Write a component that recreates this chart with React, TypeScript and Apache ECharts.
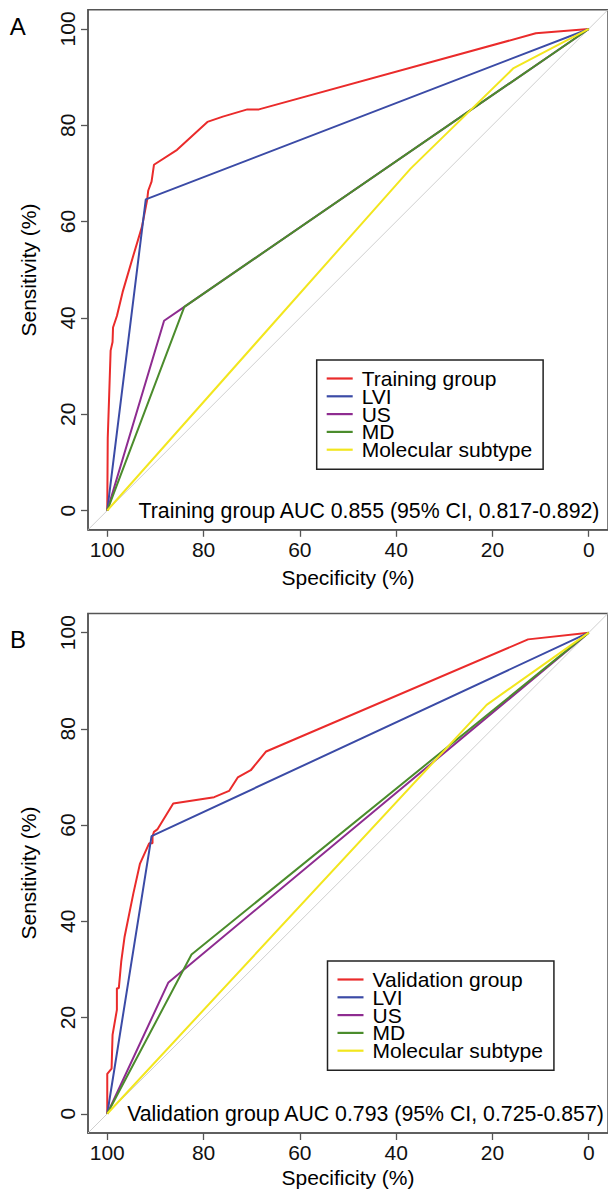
import React, { useEffect, useRef } from "react";
import * as echarts from "echarts";

// ---------- data ----------
const specTicks = [100, 80, 60, 40, 20, 0];
const sensTicks = [0, 20, 40, 60, 80, 100];

const trainLabel = "Training group";
const validLabel = "Validation group";
const factorNames = ["LVI", "US", "MD", "Molecular subtype"];
const trainAucText = "Training group AUC 0.855 (95% CI, 0.817-0.892)";
const validAucText = "Validation group AUC 0.793 (95% CI, 0.725-0.857)";

// reference diagonal (chance line)
const diagSpec = [104, -4];
const diagSens = [-4, 104];

// Training (panel A)
const trainSpec = [100, 99.9, 99.9, 99.6, 99.3, 98.9, 98.8, 98.0, 96.8, 94.6, 92.8, 91.7, 91.5, 90.8, 90.3, 85.5, 79.2, 76.0, 70.9, 68.5, 11.0, 0];
const trainSens = [0, 0, 15.0, 24.0, 33.2, 35.0, 38.0, 40.4, 45.4, 52.9, 58.9, 64.6, 66.4, 68.3, 71.8, 74.9, 80.7, 81.8, 83.3, 83.3, 99.1, 100];
const aLviSpec = [100, 92.0, 0];
const aLviSens = [0, 64.6, 100];
const aUsSpec = [100, 88.2, 84.0, 0];
const aUsSens = [0, 39.4, 42.3, 100];
const aMdSpec = [100, 84.0, 0];
const aMdSens = [0, 42.3, 100];
const aMolSpec = [100, 37.0, 15.7, 0];
const aMolSens = [0, 71.0, 91.8, 100];

// Validation (panel B)
const validSpec = [100, 100, 99.1, 98.9, 98.0, 98.0, 97.6, 97.1, 96.4, 94.6, 93.2, 91.3, 90.6, 90.6, 90.3, 89.6, 86.3, 77.8, 74.7, 72.9, 70.2, 67.0, 12.6, 0];
const validSens = [0, 8.3, 9.4, 16.4, 21.6, 26.1, 26.1, 31.6, 36.8, 45.7, 52.0, 56.2, 56.2, 57.6, 58.6, 59.1, 64.5, 65.8, 67.1, 69.9, 71.4, 75.3, 98.6, 100];
const bLviSpec = [100, 90.8, 0];
const bLviSens = [0, 57.7, 100];
const bUsSpec = [100, 87.3, 0];
const bUsSens = [0, 27.3, 100];
const bMdSpec = [100, 82.5, 0];
const bMdSens = [0, 33.1, 100];
const bMolSpec = [100, 21.2, 0];
const bMolSens = [0, 85.0, 100];

// ---------- styles ----------
const FONT = "'Liberation Sans', Arial, Helvetica, sans-serif";
const C_RED = "#ea2b2b";
const C_BLUE = "#3b4ba6";
const C_PURPLE = "#8e2c90";
const C_GREEN = "#4b8c2c";
const C_YELLOW = "#f2e61e";
const C_DIAG = "#cfcfcf";
const C_AXIS = "#555555";

const zip = (xs: number[], ys: number[]) => xs.map((x, i) => [x, ys[i]]);

export default function App() {
  const ref = useRef<HTMLDivElement>(null);

  useEffect(() => {
    document.body.style.margin = "0";
    if (!ref.current) return;
    const chart = echarts.init(ref.current, undefined, { renderer: "svg" });

    const grids = [
      { left: 88, top: 9.7, width: 520.5, height: 520.1 },
      { left: 88, top: 613.4, width: 520.5, height: 519.6 },
    ];

    const xAxes = grids.map((_, i) => ({
      type: "value",
      gridIndex: i,
      inverse: true,
      min: -4,
      max: 104,
      splitLine: { show: false },
      axisLine: { show: true, onZero: false, lineStyle: { color: C_AXIS, width: 1.5 } },
      axisTick: { show: true, inside: false, length: 7, customValues: specTicks, lineStyle: { color: C_AXIS, width: 1.3 } },
      axisLabel: { customValues: specTicks, fontSize: 21, color: "#111", margin: 9, fontFamily: FONT },
    }));
    const yAxes = grids.map((_, i) => ({
      type: "value",
      gridIndex: i,
      min: -4,
      max: 104,
      splitLine: { show: false },
      axisLine: { show: true, onZero: false, lineStyle: { color: C_AXIS, width: 1.5 } },
      axisTick: { show: true, inside: false, length: 7, customValues: sensTicks, lineStyle: { color: C_AXIS, width: 1.3 } },
      axisLabel: { customValues: sensTicks, rotate: 90, fontSize: 21, color: "#111", margin: 10, fontFamily: FONT },
    }));

    const line = (name: string, data: number[][], color: string, gi: number, width = 2) => ({
      type: "line",
      name,
      xAxisIndex: gi,
      yAxisIndex: gi,
      data,
      symbol: "none",
      color,
      lineStyle: { color, width },
      itemStyle: { color },
      silent: true,
    });

    const series = [
      line("diag-A", zip(diagSpec, diagSens), C_DIAG, 0, 1),
      line(trainLabel, zip(trainSpec, trainSens), C_RED, 0),
      line(factorNames[0], zip(aLviSpec, aLviSens), C_BLUE, 0),
      line(factorNames[1], zip(aUsSpec, aUsSens), C_PURPLE, 0),
      line(factorNames[2], zip(aMdSpec, aMdSens), C_GREEN, 0),
      line(factorNames[3], zip(aMolSpec, aMolSens), C_YELLOW, 0),
      line("diag-B", zip(diagSpec, diagSens), C_DIAG, 1, 1),
      line(validLabel, zip(validSpec, validSens), C_RED, 1),
      line(factorNames[0], zip(bLviSpec, bLviSens), C_BLUE, 1),
      line(factorNames[1], zip(bUsSpec, bUsSens), C_PURPLE, 1),
      line(factorNames[2], zip(bMdSpec, bMdSens), C_GREEN, 1),
      line(factorNames[3], zip(bMolSpec, bMolSens), C_YELLOW, 1),
    ];

    const legendBase = {
      orient: "vertical",
      padding: [8, 11, 9, 10],
      itemGap: -3.2,
      itemWidth: 26,
      itemHeight: 2.2,
      icon: "rect",
      borderColor: "#222",
      borderWidth: 1.5,
      backgroundColor: "#ffffff",
      selectedMode: false,
      textStyle: { fontSize: 21, lineHeight: 17.6, color: "#000", fontFamily: FONT, padding: [0, 0, 0, 4] },
    };

    const legends = [
      { ...legendBase, left: 316.7, top: 360, data: [trainLabel, ...factorNames] },
      { ...legendBase, left: 327.5, top: 961, data: [validLabel, ...factorNames] },
    ];

    const txt = (text: string, x: number, y: number, fontSize = 21, rotation = 0) => ({
      type: "text",
      x,
      y,
      rotation,
      silent: true,
      style: { text, fontSize, fontFamily: FONT, fill: "#000", textAlign: "center", textVerticalAlign: "middle" },
    });

    const graphic = [
      txt("A", 17.7, 26, 24),
      txt("B", 18, 639, 24),
      txt("Sensitivity (%)", 28, 270, 21, Math.PI / 2),
      txt("Sensitivity (%)", 28, 873, 21, Math.PI / 2),
      txt("Specificity (%)", 348, 577, 21),
      txt("Specificity (%)", 348, 1177, 21),
      txt(trainAucText, 369, 510.8, 21.3),
      txt(validAucText, 365.5, 1113.6, 21.3),
    ];

    chart.setOption({
      animation: false,
      backgroundColor: "#ffffff",
      grid: grids.map((g) => ({ ...g, show: true, borderColor: C_AXIS, borderWidth: 1.5, backgroundColor: "transparent" })),
      xAxis: xAxes,
      yAxis: yAxes,
      legend: legends,
      series,
      graphic,
    } as any);

    return () => chart.dispose();
  }, []);

  return <div ref={ref} style={{ position: "absolute", left: 0, top: 0, width: 608, height: 1194 }} />;
}
